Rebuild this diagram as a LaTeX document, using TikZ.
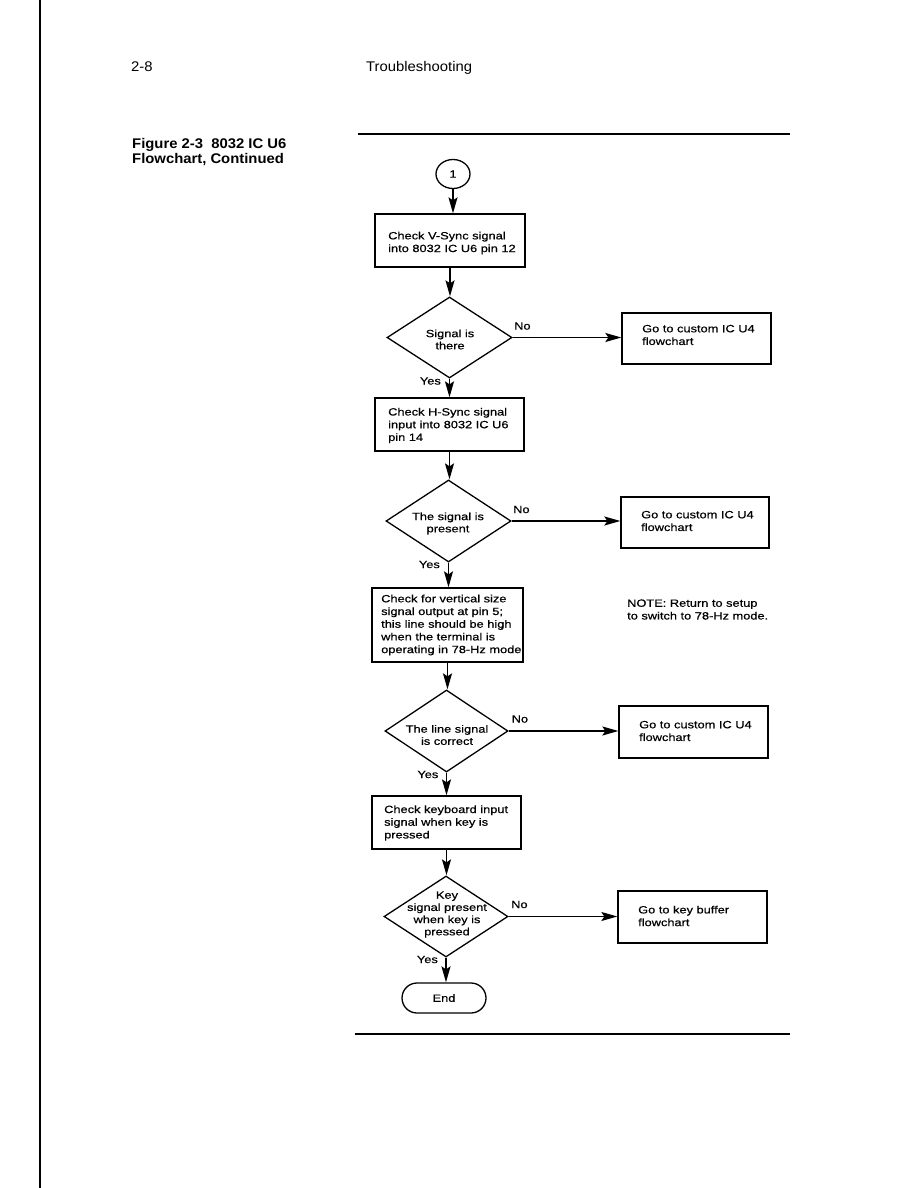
\documentclass[tikz,border=0pt]{standalone}
\usepackage{fontspec}
\setmainfont{Liberation Sans}
\newfontfamily\bodyfont{Liberation Sans}[FakeStretch=1.22,FakeBold=0.6]
\newfontfamily\headfont{Liberation Sans}[FakeStretch=1.06]
\usetikzlibrary{shapes.geometric,arrows.meta}
\begin{document}
\begin{tikzpicture}[x=1pt,y=-1pt,
  lw/.style={line width=1.3pt},
  arr/.style={line width=1.3pt,-{Stealth[length=16pt,width=9pt,inset=3pt]}},
  boxnode/.style={draw,line width=1.3pt,rectangle,inner sep=0pt},
  dia/.style={draw,line width=1.3pt,diamond,inner sep=0pt},
  txt/.style={font=\bodyfont\fontsize{10.5}{12.7}\selectfont,align=left,inner sep=0pt,anchor=west},
  ctxt/.style={font=\bodyfont\fontsize{10.5}{12.2}\selectfont,align=center,inner sep=0pt},
  lbl/.style={font=\bodyfont\fontsize{10.5}{12}\selectfont,inner sep=0pt},
  head/.style={font=\headfont\fontsize{14}{15}\selectfont,inner sep=0pt,anchor=base west},
  caption/.style={font=\headfont\bfseries\fontsize{14}{15}\selectfont,inner sep=0pt,anchor=base west}]
\useasboundingbox (0,0) rectangle (918,1188);
% scan edge line
\draw[line width=2.2pt] (40,0) -- (40,1188);
% header
\node[head] (pg) at (131,72) {2-8};
\node[head] (ttl) at (366,72) {Troubleshooting};
\node[caption] (cap1) at (132,148) {Figure 2-3\ \ 8032 IC U6};
\node[caption] (cap2) at (132,163) {Flowchart, Continued};
\draw[line width=2pt] (358,134.5) -- (790,134.5);
\draw[line width=2pt] (355,1034) -- (790,1034);
% connector circle
\node[draw,lw,ellipse,minimum width=34pt,minimum height=29pt,inner sep=0pt,font=\bodyfont\fontsize{10.5}{12}\selectfont] (c) at (453,174) {1};
% boxes
\node[boxnode,minimum width=150pt,minimum height=53pt] (b1) at (450,240.5) {};
\node[txt] (t1) at (388,243) {Check V-Sync signal\\into 8032 IC U6 pin 12};
\node[boxnode,minimum width=149pt,minimum height=51pt] (b2) at (696.5,338.5) {};
\node[txt] (t2) at (642,335) {Go to custom IC U4\\flowchart};
\node[boxnode,minimum width=149pt,minimum height=53pt] (b3) at (449.5,424.5) {};
\node[txt] (t3) at (388,425.5) {Check H-Sync signal\\input into 8032 IC U6\\pin 14};
\node[boxnode,minimum width=148pt,minimum height=51pt] (b4) at (695,522.5) {};
\node[txt] (t4) at (641,521) {Go to custom IC U4\\flowchart};
\node[boxnode,minimum width=151pt,minimum height=74pt] (b5) at (447.5,625) {};
\node[txt] (t5) at (381,625) {Check for vertical size\\signal output at pin 5;\\this line should be high\\when the terminal is\\operating in 78-Hz mode};
\node[txt] (note) at (627,609.5) {NOTE: Return to setup\\to switch to 78-Hz mode.};
\node[boxnode,minimum width=149pt,minimum height=52pt] (b6) at (693.5,732) {};
\node[txt] (t6) at (639,731) {Go to custom IC U4\\flowchart};
\node[boxnode,minimum width=149pt,minimum height=53pt] (b7) at (446.5,822.5) {};
\node[txt] (t7) at (384,823) {Check keyboard input\\signal when key is\\pressed};
\node[boxnode,minimum width=149pt,minimum height=52pt] (b8) at (692.5,917) {};
\node[txt] (t8) at (638,916) {Go to key buffer\\flowchart};
% diamonds
\node[dia,minimum width=125pt,minimum height=81pt] (d1) at (449.5,337.5) {};
\node[ctxt] (dt1) at (450,339.5) {Signal is\\there};
\node[dia,minimum width=125pt,minimum height=82pt] (d2) at (448.5,521) {};
\node[ctxt] (dt2) at (448,523.5) {The signal is\\present};
\node[dia,minimum width=123pt,minimum height=82pt] (d3) at (446.5,731) {};
\node[ctxt] (dt3) at (447,735) {The line signal\\is correct};
\node[dia,minimum width=124pt,minimum height=81pt] (d4) at (446,916.5) {};
\node[ctxt] (dt4) at (447,914.5) {Key\\signal present\\when key is\\pressed};
% end
\node[draw,lw,rectangle,rounded corners=15pt,minimum width=84pt,minimum height=30pt,inner sep=0pt,font=\bodyfont\fontsize{10.5}{12}\selectfont] (e) at (444,998) {End};
% labels
\node[lbl,anchor=west] (no1) at (514,326) {No};
\node[lbl,anchor=west] (no2) at (513,509.5) {No};
\node[lbl,anchor=west] (no3) at (511.5,719) {No};
\node[lbl,anchor=west] (no4) at (511,904.5) {No};
\node[lbl,anchor=east] (y1) at (441,381) {Yes};
\node[lbl,anchor=east] (y2) at (440,564.5) {Yes};
\node[lbl,anchor=east] (y3) at (438.5,774.5) {Yes};
\node[lbl,anchor=east] (y4) at (438,959.5) {Yes};
% connectors
\draw[arr] (c.south) -- (c.south |- b1.north);
\draw[arr] (b1.south) -- (b1.south |- d1.north);
\draw[arr] (d1.east) -- (d1.east -| b2.west);
\draw[arr] (d1.south) -- (d1.south |- b3.north);
\draw[arr] (b3.south) -- (b3.south |- d2.north);
\draw[arr] (d2.east) -- (d2.east -| b4.west);
\draw[arr] (d2.south) -- (d2.south |- b5.north);
\draw[arr] (b5.south) -- (b5.south |- d3.north);
\draw[arr] (d3.east) -- (d3.east -| b6.west);
\draw[arr] (d3.south) -- (d3.south |- b7.north);
\draw[arr] (b7.south) -- (b7.south |- d4.north);
\draw[arr] (d4.east) -- (d4.east -| b8.west);
\draw[arr] (d4.south) -- (d4.south |- e.north);
\end{tikzpicture}
\end{document}
